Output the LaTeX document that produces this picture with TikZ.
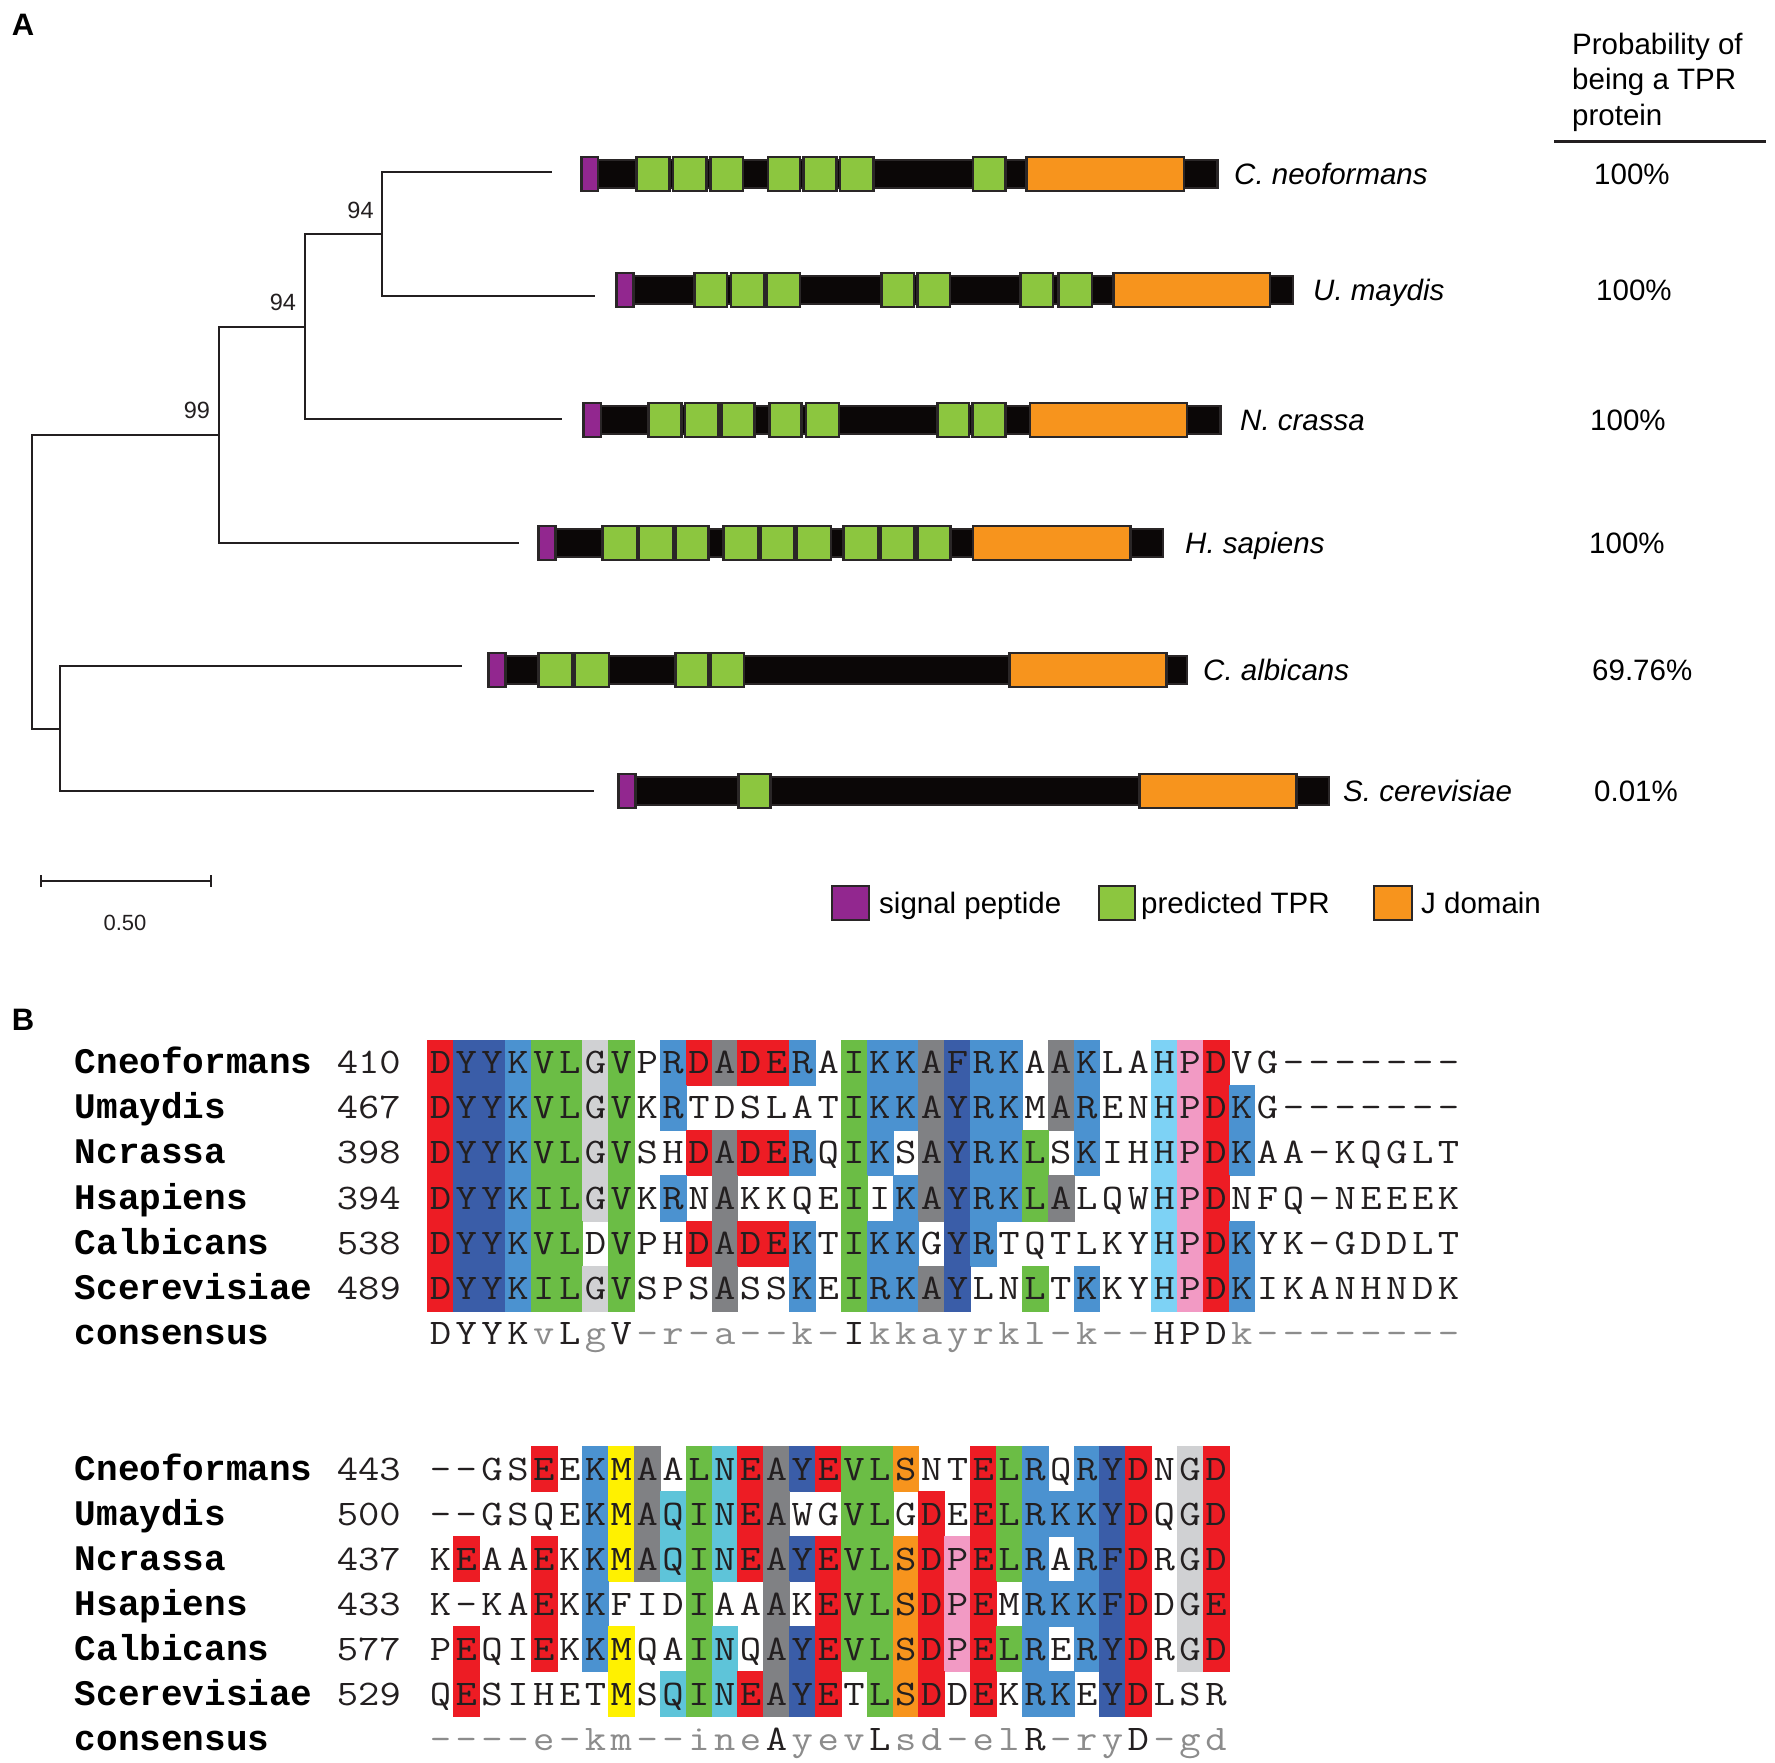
\documentclass[tikz,border=0pt]{standalone}
\usepackage{fontspec}
\setmainfont{Liberation Sans}
\newfontfamily\namefont{Liberation Mono}
\definecolor{cR}{HTML}{ED1C24}
\definecolor{cB}{HTML}{3A5DA8}
\definecolor{cM}{HTML}{4B92D0}
\definecolor{cG}{HTML}{6BBD45}
\definecolor{cL}{HTML}{D0D1D3}
\definecolor{cD}{HTML}{808184}
\definecolor{cH}{HTML}{7DD2F5}
\definecolor{cP}{HTML}{F29AC4}
\definecolor{cY}{HTML}{FFF100}
\definecolor{cT}{HTML}{5EC4D9}
\definecolor{cO}{HTML}{F7941D}
\definecolor{consk}{HTML}{231F20}
\definecolor{consg}{HTML}{8C8C8C}
\definecolor{sigpurple}{HTML}{92278F}
\definecolor{tprgreen}{HTML}{8CC63F}
\definecolor{jorange}{HTML}{F7941D}
\definecolor{barblack}{HTML}{0B0707}
\definecolor{outl}{HTML}{2A2627}
\definecolor{treeline}{HTML}{231F20}

\def\alx{427.5}
\def\alw{25.85}
\newcommand\widen[1]{\scalebox{1.15}[1]{#1}}

\tikzset{
  cellR/.style={fill=cR,draw=cR,line width=0.5pt},
  cellB/.style={fill=cB,draw=cB,line width=0.5pt},
  cellM/.style={fill=cM,draw=cM,line width=0.5pt},
  cellG/.style={fill=cG,draw=cG,line width=0.5pt},
  cellL/.style={fill=cL,draw=cL,line width=0.5pt},
  cellD/.style={fill=cD,draw=cD,line width=0.5pt},
  cellH/.style={fill=cH,draw=cH,line width=0.5pt},
  cellP/.style={fill=cP,draw=cP,line width=0.5pt},
  cellY/.style={fill=cY,draw=cY,line width=0.5pt},
  cellT/.style={fill=cT,draw=cT,line width=0.5pt},
  cellO/.style={fill=cO,draw=cO,line width=0.5pt},
  cellW/.style={},
  alletter/.style={anchor=base,inner sep=0pt,font=\ttfamily\fontsize{36}{40}\selectfont,text=consk},
  namelabel/.style={anchor=base west,inner sep=0pt,font=\namefont\bfseries\fontsize{36}{40}\selectfont,text=black},
  numlabel/.style={anchor=base east,inner sep=0pt,font=\ttfamily\fontsize{36}{40}\selectfont,text=consk},
  tree/.style={draw=treeline,line width=1.8pt,line cap=rect},
  bootlabel/.style={inner sep=0pt,font=\fontsize{23.5}{26}\selectfont,text=consk},
  barbody/.style={fill=barblack,draw=outl,line width=2.5pt},
  sigbox/.style={fill=sigpurple,draw=outl,line width=2.8pt},
  tprbox/.style={fill=tprgreen,draw=outl,line width=2.8pt},
  jbox/.style={fill=jorange,draw=outl,line width=2.8pt},
  species/.style={anchor=base west,inner sep=0pt,font=\itshape\fontsize{29.5}{32}\selectfont},
  pct/.style={anchor=base west,inner sep=0pt,font=\fontsize{29.5}{32}\selectfont},
  legtext/.style={anchor=base west,inner sep=0pt,font=\fontsize{29.5}{32}\selectfont},
  panel/.style={inner sep=0pt,font=\bfseries\fontsize{31}{34}\selectfont}
}

% cells: #1 top y, #2 height, #3 code list
\newcommand\alcells[3]{\foreach \cd [count=\kk] in {#3}{\path[cell\cd] ({\alx+(\kk-1)*\alw},{#1}) rectangle ({\alx+\kk*\alw},{#1+#2});}}
% letters: #1 center y, #2 name prefix, #3 letters
\newcommand\alletters[3]{\foreach \lt [count=\kk] in {#3}{\node[alletter] (#2-\kk) at ({\alx+(\kk-0.5)*\alw},{#1+10.9}) {\widen{\lt}};}}
\newcommand\alcons[3]{\foreach \lt/\cc [count=\kk] in {#3}{\node[alletter,text=cons\cc] (#2-\kk) at ({\alx+(\kk-0.5)*\alw},{#1+10.9}) {\widen{\lt}};}}
% protein bar: #1 y, #2 x start, #3 purple end, #4 x end, #5 green list, #6 orange start, #7 orange end
\newcommand\protbar[7]{%
  \path[barbody] (#2,{#1-14}) rectangle (#4,{#1+14});
  \path[sigbox] (#2,{#1-17}) rectangle (#3,{#1+17});
  \foreach \xa/\xb in {#5}{\path[tprbox] (\xa,{#1-17}) rectangle (\xb,{#1+17});}
  \path[jbox] (#6,{#1-17}) rectangle (#7,{#1+17});
}

\begin{document}
\begin{tikzpicture}[x=1pt,y=-1pt]
\useasboundingbox (0,0) rectangle (1775,1762);
\fill[white] (0,0) rectangle (1775,1762);

% ---------------- Panel A ----------------
\node[panel] (labA) at (23,25) {A};

% tree
\coordinate (root) at (31.7,582);
\coordinate (n99) at (218.7,435);
\coordinate (n94a) at (304.8,326.7);
\coordinate (n94b) at (382.3,234);
\coordinate (nCS) at (60,728.6);
\coordinate (lCn) at (551,172);
\coordinate (lUm) at (593.6,295.7);
\coordinate (lNc) at (560.8,419.3);
\coordinate (lHs) at (517.8,542.9);
\coordinate (lCa) at (461,666);
\coordinate (lSc) at (593,791);
\draw[tree] (root) |- (n99);
\draw[tree] (root) |- (nCS);
\draw[tree] (n99) |- (n94a);
\draw[tree] (n99) |- (lHs);
\draw[tree] (n94a) |- (n94b);
\draw[tree] (n94a) |- (lNc);
\draw[tree] (n94b) |- (lCn);
\draw[tree] (n94b) |- (lUm);
\draw[tree] (nCS) |- (lCa);
\draw[tree] (nCS) |- (lSc);
\node[bootlabel] (b94u) at (360.5,210) {94};
\node[bootlabel] (b94l) at (283,302.7) {94};
\node[bootlabel] (b99) at (197,410) {99};

% scale bar
\coordinate (sb1) at (41,881);
\coordinate (sb2) at (211,881);
\draw[tree,line cap=butt] (sb1) -- (sb2);
\draw[tree,line cap=butt] ([yshift=-6pt]sb1) -- ([yshift=6pt]sb1);
\draw[tree,line cap=butt] ([yshift=-6pt]sb2) -- ([yshift=6pt]sb2);
\node[inner sep=0pt,font=\fontsize{22}{24}\selectfont,text=consk] (sblab) at (125,922.6) {0.50};

% protein bars
\protbar{174}{581.4}{597.9}{1217.6}{636.8/669.8,673/706.4,710.4/743,768/800,803.3/836.8,840/873.4,973/1005.5}{1026.5}{1184}
\protbar{290}{616.3}{633.7}{1293}{694.4/727,731/764.5,767/800,881.4/914,917.6/950,1020.7/1052.9,1058.7/1092}{1113.6}{1270}
\protbar{420}{583.7}{601}{1220.7}{648.8/681.4,685/718.5,721.6/754.6,769.4/801.5,806/839,937.7/969,972.5/1005.5}{1030}{1187}
\protbar{543}{538.1}{555.7}{1163}{602.3/637.4,639/673.6,675.8/708.7,723.5/758,760.3/794.3,797/831,843.7/878.2,880.4/914.4,917.2/950.6}{973}{1130.6}
\protbar{670}{488.2}{505.8}{1187}{538.7/572.2,574.4/609,675.3/708.7,710.4/743.9}{1009.3}{1166.8}
\protbar{791}{618.2}{635.2}{1329}{738.4/770.7}{1139.4}{1296.2}

% species labels
\node[species] (spCn) at (1234,184.5) {C. neoformans};
\node[species] (spUm) at (1313,300.5) {U. maydis};
\node[species] (spNc) at (1240,430.5) {N. crassa};
\node[species] (spHs) at (1185,553.5) {H. sapiens};
\node[species] (spCa) at (1203,680) {C. albicans};
\node[species] (spSc) at (1343,801.5) {S. cerevisiae};

% probability column
\node[pct] (hd1) at (1572,54) {Probability of};
\node[pct] (hd2) at (1572,89.5) {being a TPR};
\node[pct] (hd3) at (1572,125) {protein};
\coordinate (hl1) at (1554,141.5);
\coordinate (hl2) at (1766,141.5);
\draw[draw=consk,line width=2.5pt] (hl1) -- (hl2);
\node[pct] (pCn) at (1594,184.5) {100\%};
\node[pct] (pUm) at (1596,300.5) {100\%};
\node[pct] (pNc) at (1590,430.5) {100\%};
\node[pct] (pHs) at (1589,553.5) {100\%};
\node[pct] (pCa) at (1592,680) {69.76\%};
\node[pct] (pSc) at (1594,801.5) {0.01\%};

% legend
\path[sigbox] (832,886) rectangle (869,920);
\node[legtext] (lg1) at (879,913.5) {signal peptide};
\path[tprbox] (1099,886) rectangle (1135,920);
\node[legtext] (lg2) at (1141,913.5) {predicted TPR};
\path[jbox] (1374,886) rectangle (1412,920);
\node[legtext] (lg3) at (1421,913.5) {J domain};

% ---------------- Panel B ----------------
\node[panel] (labB) at (23,1019.5) {B};

% top block cells
\alcells{1040}{45.2}{R,B,B,M,G,G,L,G,W,M,R,D,R,R,M,W,G,M,M,D,B,M,M,W,D,M,W,W,H,P,R,W}
\alcells{1085.2}{45.2}{R,B,B,M,G,G,L,G,W,M,W,W,W,W,W,W,G,M,M,D,B,M,M,W,D,M,W,W,H,P,R,M}
\alcells{1130.4}{45.2}{R,B,B,M,G,G,L,G,W,W,R,D,R,R,M,W,G,M,W,D,B,M,M,G,W,M,W,W,H,P,R,M}
\alcells{1175.6}{45.2}{R,B,B,M,G,G,L,G,W,M,W,D,W,W,W,W,G,W,M,D,B,M,M,G,D,W,W,W,H,P,R,W}
\alcells{1220.8}{45.2}{R,B,B,M,G,G,W,G,W,W,R,D,R,R,M,W,G,M,M,W,B,M,W,W,W,W,W,W,H,P,R,M}
\alcells{1266}{45.2}{R,B,B,M,G,G,L,G,W,W,W,D,W,W,M,W,G,M,M,D,B,W,W,G,W,M,W,W,H,P,R,M}

\alletters{1062.6}{t1}{D,Y,Y,K,V,L,G,V,P,R,D,A,D,E,R,A,I,K,K,A,F,R,K,A,A,K,L,A,H,P,D,V,G,-,-,-,-,-,-,-}
\alletters{1107.8}{t2}{D,Y,Y,K,V,L,G,V,K,R,T,D,S,L,A,T,I,K,K,A,Y,R,K,M,A,R,E,N,H,P,D,K,G,-,-,-,-,-,-,-}
\alletters{1153.0}{t3}{D,Y,Y,K,V,L,G,V,S,H,D,A,D,E,R,Q,I,K,S,A,Y,R,K,L,S,K,I,H,H,P,D,K,A,A,-,K,Q,G,L,T}
\alletters{1198.2}{t4}{D,Y,Y,K,I,L,G,V,K,R,N,A,K,K,Q,E,I,I,K,A,Y,R,K,L,A,L,Q,W,H,P,D,N,F,Q,-,N,E,E,E,K}
\alletters{1243.4}{t5}{D,Y,Y,K,V,L,D,V,P,H,D,A,D,E,K,T,I,K,K,G,Y,R,T,Q,T,L,K,Y,H,P,D,K,Y,K,-,G,D,D,L,T}
\alletters{1288.6}{t6}{D,Y,Y,K,I,L,G,V,S,P,S,A,S,S,K,E,I,R,K,A,Y,L,N,L,T,K,K,Y,H,P,D,K,I,K,A,N,H,N,D,K}
\alcons{1333.8}{t7}{D/k,Y/k,Y/k,K/k,v/g,L/k,g/g,V/k,-/g,r/g,-/g,a/g,-/g,-/g,k/g,-/g,I/k,k/g,k/g,a/g,y/g,r/g,k/g,l/g,-/g,k/g,-/g,-/g,H/k,P/k,D/k,k/g,-/g,-/g,-/g,-/g,-/g,-/g,-/g,-/g}

\foreach \nm/\nb/\yy [count=\rr] in {Cneoformans/410/1062.6,Umaydis/467/1107.8,Ncrassa/398/1153.0,Hsapiens/394/1198.2,Calbicans/538/1243.4,Scerevisiae/489/1288.6}{
  \node[namelabel] (tn\rr) at (74.7,{\yy+10.9}) {\nm};
  \node[numlabel] (tp\rr) at (401,{\yy+10.9}) {\widen{\nb}};
}
\node[namelabel] (tn7) at (74.7,1344.7) {consensus};

% bottom block cells
\alcells{1446.7}{45}{W,W,W,W,R,W,M,Y,D,W,G,T,R,D,B,R,G,G,O,W,W,R,G,M,W,M,B,R,W,L,R}
\alcells{1491.7}{45}{W,W,W,W,W,W,M,Y,D,T,G,T,R,D,W,W,G,G,W,R,W,R,G,M,M,M,B,R,W,L,R}
\alcells{1536.7}{45}{W,R,W,W,R,W,M,Y,D,T,G,T,R,D,B,R,G,G,O,R,P,R,G,M,W,M,B,R,W,L,R}
\alcells{1581.7}{45}{W,W,W,W,R,W,M,W,W,W,G,W,W,D,W,R,G,G,O,R,P,R,W,M,M,M,B,R,W,L,R}
\alcells{1626.7}{45}{W,R,W,W,R,W,M,Y,W,W,G,T,W,D,B,R,G,G,O,R,P,R,G,M,W,M,B,R,W,L,R}
\alcells{1671.7}{45}{W,R,W,W,W,W,W,Y,W,T,G,T,R,D,B,R,W,G,O,R,W,R,W,M,M,W,B,R,W,W,W}

\alletters{1469.2}{u1}{-,-,G,S,E,E,K,M,A,A,L,N,E,A,Y,E,V,L,S,N,T,E,L,R,Q,R,Y,D,N,G,D}
\alletters{1514.2}{u2}{-,-,G,S,Q,E,K,M,A,Q,I,N,E,A,W,G,V,L,G,D,E,E,L,R,K,K,Y,D,Q,G,D}
\alletters{1559.2}{u3}{K,E,A,A,E,K,K,M,A,Q,I,N,E,A,Y,E,V,L,S,D,P,E,L,R,A,R,F,D,R,G,D}
\alletters{1604.2}{u4}{K,-,K,A,E,K,K,F,I,D,I,A,A,A,K,E,V,L,S,D,P,E,M,R,K,K,F,D,D,G,E}
\alletters{1649.2}{u5}{P,E,Q,I,E,K,K,M,Q,A,I,N,Q,A,Y,E,V,L,S,D,P,E,L,R,E,R,Y,D,R,G,D}
\alletters{1694.2}{u6}{Q,E,S,I,H,E,T,M,S,Q,I,N,E,A,Y,E,T,L,S,D,D,E,K,R,K,E,Y,D,L,S,R}
\alcons{1739.2}{u7}{-/g,-/g,-/g,-/g,e/g,-/g,k/g,m/g,-/g,-/g,i/g,n/g,e/g,A/k,y/g,e/g,v/g,L/k,s/g,d/g,-/g,e/g,l/g,R/k,-/g,r/g,y/g,D/k,-/g,g/g,d/g}

\foreach \nm/\nb/\yy [count=\rr] in {Cneoformans/443/1469.2,Umaydis/500/1514.2,Ncrassa/437/1559.2,Hsapiens/433/1604.2,Calbicans/577/1649.2,Scerevisiae/529/1694.2}{
  \node[namelabel] (un\rr) at (74.7,{\yy+10.9}) {\nm};
  \node[numlabel] (up\rr) at (401,{\yy+10.9}) {\widen{\nb}};
}
\node[namelabel] (un7) at (74.7,1750.1) {consensus};
\end{tikzpicture}
\end{document}
